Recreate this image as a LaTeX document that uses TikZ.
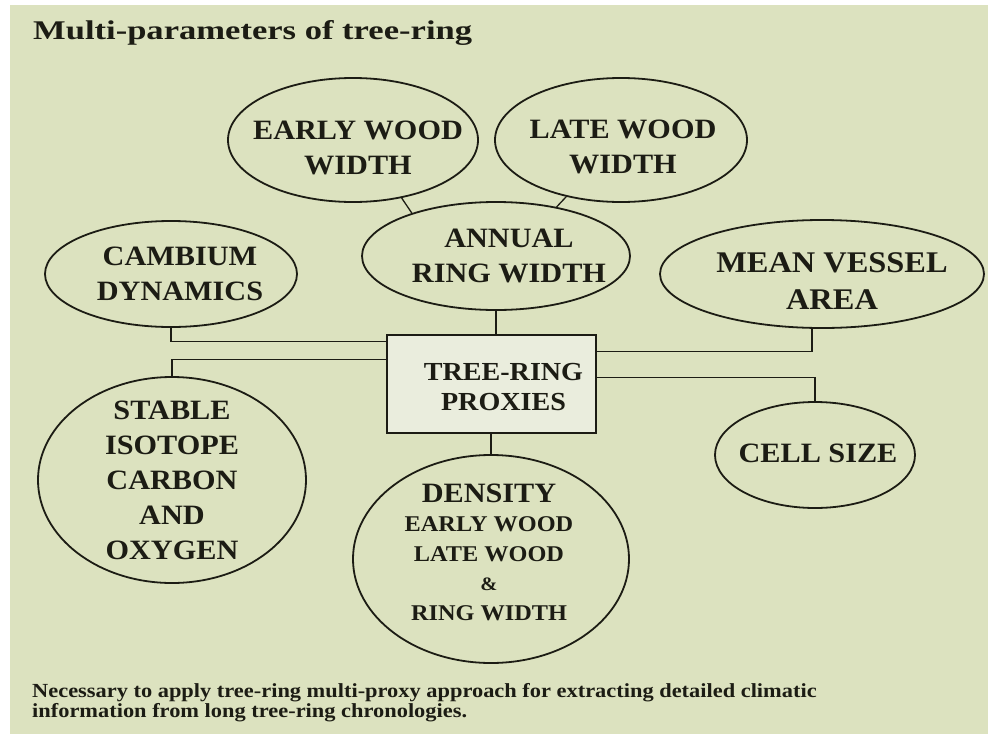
\documentclass[tikz,border=0pt]{standalone}
\usepackage{fontspec}
\setmainfont{Liberation Serif}
\newfontfamily\ovalfont{Liberation Serif}[FakeStretch=1.08]
\newfontfamily\titlefont{Liberation Serif}[FakeStretch=1.28]
\newfontfamily\notefont{Liberation Serif}[FakeStretch=1.12]
\usetikzlibrary{shapes.geometric}
\definecolor{sage}{HTML}{DCE2BF}
\definecolor{boxfill}{HTML}{EAEDDD}
\definecolor{ink}{HTML}{1C1C14}
\begin{document}
\begin{tikzpicture}[x=1pt, y=-1pt,
        oval/.style={ellipse, draw=ink, line width=1.8pt, inner sep=0pt},
        lbl/.style={align=center, text=ink, inner sep=0pt,
            font=\ovalfont\bfseries\fontsize{28}{35}\selectfont},
        link/.style={draw=ink, line width=1.3pt}]
    \useasboundingbox (0,0) rectangle (988,734);
    \fill[sage] (10,5) rectangle (988,734);

    % Title
    \node[anchor=base west, text=ink, inner sep=0pt,
        font=\titlefont\bfseries\fontsize{27}{30}\selectfont] (title) at (33,39)
    {Multi-parameters of tree-ring};

    % Top row
    \node[oval, minimum width=250pt, minimum height=124pt,
        label={[lbl, xshift=5pt, yshift=-8pt]center:EARLY WOOD\\WIDTH}]
        (early) at (353,140) {};
    \node[oval, minimum width=252pt, minimum height=124pt,
        label={[lbl, xshift=2pt, yshift=-7pt]center:LATE WOOD\\WIDTH}]
        (late) at (621,140) {};

    % Middle row
    \node[oval, minimum width=268pt, minimum height=108pt,
        label={[lbl, xshift=13pt]center:ANNUAL\\RING WIDTH}]
        (annual) at (496,256) {};
    \node[oval, minimum width=252pt, minimum height=106pt,
        label={[lbl, xshift=9pt]center:CAMBIUM\\DYNAMICS}]
        (cambium) at (171,274) {};
    \node[oval, minimum width=324pt, minimum height=108pt,
        label={[lbl, xshift=10pt, yshift=-7pt,
            font=\ovalfont\bfseries\fontsize{30}{37}\selectfont]center:MEAN VESSEL\\AREA}]
        (vessel) at (822,274) {};

    % Centre box
    \node[draw=ink, fill=boxfill, line width=1.6pt, inner sep=0pt,
        minimum width=209pt, minimum height=98pt,
        label={[lbl, xshift=12pt, yshift=-3pt,
            font=\ovalfont\bfseries\fontsize{26}{30}\selectfont]center:TREE-RING\\PROXIES}]
        (proxies) at (491.5,384) {};

    % Bottom row
    \node[oval, minimum width=268pt, minimum height=206pt,
        label={[lbl]center:STABLE\\ISOTOPE\\CARBON\\AND\\OXYGEN}]
        (stable) at (172,480) {};
    \node[oval, minimum width=200pt, minimum height=106pt,
        label={[lbl, xshift=3pt, yshift=2pt]center:CELL SIZE}]
        (cell) at (815,455) {};
    \node[oval, minimum width=276pt, minimum height=208pt,
        label={[lbl, xshift=-2pt, yshift=7pt,
            font=\ovalfont\bfseries\fontsize{22.5}{29.5}\selectfont]center:%
            {\fontsize{28}{29.5}\selectfont DENSITY}\\EARLY WOOD\\LATE WOOD\\{\fontsize{19}{29.5}\selectfont\&}\\RING WIDTH}]
        (density) at (491,559) {};

    % Connectors
    \draw[link] (early.-50) -- (annual.153);
    \draw[link] (late.-134) -- (annual.39);
    \draw[link] (annual.south) -- (annual.south |- proxies.north);
    \draw[link] (cambium.south) |- ([yshift=-7pt]proxies.north west);
    \draw[link] (stable.north) |- ([yshift=-25pt]proxies.north west);
    \draw[link] ([xshift=-10pt]vessel.south) |- ([yshift=-17pt]proxies.north east);
    \draw[link] (cell.north) |- ([yshift=-43pt]proxies.north east);
    \draw[link] (density.north) -- (density.north |- proxies.south);

    % Note
    \node[anchor=base west, text=ink, inner sep=0pt,
        font=\notefont\bfseries\fontsize{20}{20}\selectfont] (note1) at (32,697)
    {Necessary to apply tree-ring multi-proxy approach for extracting detailed climatic};
    \node[anchor=base west, text=ink, inner sep=0pt,
        font=\notefont\bfseries\fontsize{20}{20}\selectfont] (note2) at (32,717)
    {information from long tree-ring chronologies.};
\end{tikzpicture}
\end{document}
